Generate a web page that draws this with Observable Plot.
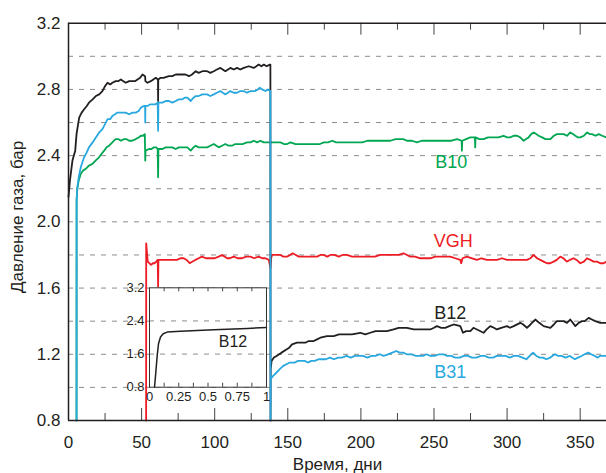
<!DOCTYPE html>
<html>
<head>
<meta charset="utf-8">
<script src="https://cdn.jsdelivr.net/npm/d3@7"></script>
<script src="https://cdn.jsdelivr.net/npm/@observablehq/plot@0.6"></script>
<style>
  html, body { margin: 0; padding: 0; background: white; }
  #wrap { position: relative; width: 606px; height: 473px; }
  #wrap svg { display: block; }
  #inset { position: absolute; left: 100px; top: 262px; }
</style>
</head>
<body>
<div id="wrap"><div id="main"></div><div id="inset"></div></div>
<script>
// ---- data: [day, pressure (bar)] ----
const B12 = [[0,2.15],[1,2.25],[2.7,2.37],[4.6,2.43],[5.5,2.53],[7.3,2.63],[9,2.66],[10.7,2.68],[12.5,2.70],[14,2.72],[16.5,2.74],[18.7,2.76],[21,2.77],[23.2,2.79],[25,2.82],[26.7,2.84],[28.5,2.83],[30,2.84],[32.3,2.85],[34,2.85],[35.8,2.86],[37.5,2.85],[39.2,2.84],[41.5,2.85],[43.8,2.85],[45.5,2.85],[47.2,2.86],[49,2.87],[50.6,2.89],[52.4,2.88],[52.6,2.85],[54,2.84],[56.3,2.85],[58,2.86],[59.7,2.87],[61.2,2.86],[61.3,2.73],[61.4,2.86],[63,2.87],[65,2.87],[68.7,2.88],[71,2.88],[73.3,2.89],[75.5,2.89],[77.9,2.89],[80,2.89],[82.4,2.88],[84.5,2.89],[87,2.91],[89,2.90],[91.6,2.91],[94.8,2.91],[97,2.90],[99.4,2.91],[101.5,2.92],[103.9,2.93],[107.3,2.91],[110.7,2.93],[113,2.92],[115.3,2.93],[117.5,2.92],[119.9,2.93],[123.3,2.94],[126.7,2.93],[128.5,2.94],[130.1,2.95],[132,2.94],[133.6,2.95],[135.5,2.94],[137.7,2.95],[138.1,2.95],[138.2,0.8],[138.3,1.11],[138.9,1.16],[140.5,1.18],[142.3,1.19],[145.7,1.21],[149.3,1.23],[151,1.24],[152.9,1.26],[156.3,1.27],[159.8,1.27],[162,1.27],[164.3,1.28],[167.7,1.28],[170,1.29],[172.3,1.30],[176.8,1.31],[181.4,1.31],[185,1.32],[188.2,1.32],[193.9,1.32],[199.6,1.33],[203,1.32],[206.4,1.33],[210,1.34],[213.3,1.34],[217.8,1.34],[222.4,1.35],[225.8,1.36],[228.5,1.36],[231.5,1.36],[236.1,1.35],[239.5,1.35],[242.9,1.35],[247.5,1.35],[250,1.36],[252,1.37],[255,1.36],[257.7,1.36],[260.5,1.37],[263.4,1.38],[268,1.37],[269.8,1.33],[272,1.34],[274.8,1.34],[277,1.36],[279.4,1.35],[283.9,1.33],[286,1.35],[288.5,1.37],[291,1.36],[293,1.35],[296,1.36],[299.9,1.37],[302,1.36],[304.5,1.37],[309,1.39],[311,1.38],[313.6,1.36],[316,1.38],[319.3,1.41],[322,1.39],[325,1.37],[329.6,1.36],[332,1.38],[334.1,1.40],[338.7,1.40],[341,1.39],[343.2,1.41],[346.7,1.37],[349,1.39],[351.2,1.40],[353,1.40],[355.8,1.42],[358,1.41],[360.3,1.40],[363.7,1.39],[367.2,1.39],[368,1.39]];

const B31 = [[5.5,0.8],[5.55,2.13],[6.1,2.21],[7,2.27],[8.4,2.33],[9.5,2.36],[10.7,2.39],[12.5,2.42],[14,2.45],[16.5,2.48],[18.7,2.51],[21,2.54],[23.2,2.56],[25,2.59],[26.7,2.62],[28.5,2.62],[30,2.64],[31.8,2.65],[33.5,2.66],[35.2,2.66],[37,2.66],[39,2.66],[41.5,2.65],[43.8,2.66],[46,2.66],[48,2.67],[49.5,2.69],[51.5,2.70],[52.4,2.70],[52.5,2.60],[52.6,2.70],[54,2.70],[56,2.71],[57.8,2.71],[59.5,2.71],[61,2.72],[61.3,2.55],[61.5,2.72],[64.3,2.72],[66.5,2.73],[68.7,2.73],[71,2.72],[73.3,2.73],[75.5,2.74],[77.9,2.74],[79.5,2.75],[81.3,2.75],[83.6,2.73],[85.5,2.75],[87,2.76],[89,2.76],[91.6,2.77],[94.8,2.77],[97,2.76],[99.4,2.77],[101.5,2.78],[103.9,2.79],[105.5,2.78],[107.3,2.77],[109,2.78],[110.7,2.79],[113,2.78],[115.3,2.78],[117.5,2.79],[119.9,2.79],[122,2.78],[124.4,2.79],[127.8,2.79],[129.5,2.80],[130.8,2.81],[132.5,2.80],[134.7,2.79],[136.5,2.80],[138.1,2.79],[138.2,0.8],[138.3,1.05],[140,1.07],[142.3,1.09],[144.5,1.11],[146.9,1.13],[149,1.14],[151.4,1.15],[154.8,1.15],[157,1.16],[159.4,1.16],[161.5,1.16],[163.9,1.15],[166,1.16],[168.5,1.16],[171,1.17],[173.1,1.17],[176,1.17],[178.8,1.18],[181.5,1.17],[184.5,1.18],[187,1.18],[190.2,1.19],[193,1.18],[195.9,1.19],[198.5,1.19],[201.5,1.19],[204.5,1.18],[207.2,1.19],[210,1.19],[212.9,1.20],[215.5,1.19],[218.6,1.20],[221.5,1.21],[224.3,1.22],[226.5,1.21],[228.8,1.21],[231.5,1.20],[234.5,1.20],[237.5,1.19],[240.2,1.19],[242.5,1.19],[244.8,1.20],[247.5,1.19],[250.5,1.19],[253.5,1.20],[256.2,1.20],[259,1.19],[261.9,1.19],[264.5,1.18],[267.6,1.18],[270.5,1.19],[273.3,1.19],[276,1.18],[279,1.18],[282,1.19],[284.7,1.19],[287.5,1.18],[290.4,1.18],[293,1.19],[296.1,1.19],[299,1.19],[301.8,1.18],[304.5,1.19],[307.5,1.19],[310.5,1.18],[313.2,1.17],[315.5,1.19],[317.8,1.21],[320,1.19],[322.4,1.18],[324.5,1.18],[326.9,1.17],[329.5,1.18],[332.6,1.20],[335,1.19],[337.2,1.19],[340,1.18],[342.9,1.19],[344.5,1.18],[346.3,1.17],[348.5,1.18],[350.9,1.19],[353,1.20],[355.5,1.21],[357.5,1.20],[360,1.19],[362,1.18],[363.5,1.19],[365.5,1.19],[368,1.19]];

const B10 = [[5.5,0.8],[5.55,2.13],[6,2.20],[7,2.25],[8.4,2.29],[10,2.31],[11.8,2.32],[14,2.34],[16.4,2.35],[18.5,2.37],[20.9,2.39],[22.5,2.41],[24.4,2.43],[26,2.45],[27.8,2.46],[30,2.48],[31,2.49],[32.3,2.50],[34,2.50],[35.8,2.49],[38,2.50],[39.5,2.50],[41.5,2.49],[43.5,2.49],[46,2.50],[48,2.51],[49.5,2.52],[51,2.52],[52.2,2.53],[52.4,2.43],[52.5,2.37],[52.7,2.43],[55.1,2.44],[56.8,2.44],[58.5,2.45],[60,2.45],[61,2.44],[61.3,2.27],[61.5,2.44],[64.3,2.44],[66.5,2.45],[68.7,2.45],[71,2.45],[73.3,2.44],[75.5,2.45],[77.9,2.45],[81.3,2.45],[83.6,2.43],[85.5,2.45],[87,2.46],[89,2.45],[91.6,2.45],[94.8,2.45],[97,2.46],[99.4,2.47],[102.7,2.45],[105,2.46],[107.3,2.47],[109.5,2.46],[111.9,2.46],[114,2.47],[116.4,2.47],[119,2.47],[122.1,2.48],[124.5,2.48],[126.7,2.49],[129,2.48],[131.3,2.49],[133.5,2.48],[135.8,2.48],[139.3,2.48],[142.7,2.48],[145,2.48],[147.3,2.47],[149.5,2.47],[151.8,2.48],[155.3,2.47],[158.7,2.47],[161,2.47],[163.3,2.47],[166,2.47],[169,2.47],[172,2.47],[174.7,2.48],[177.5,2.48],[180.4,2.49],[183,2.48],[186.1,2.48],[189,2.48],[191.8,2.48],[194.5,2.48],[197.5,2.48],[201,2.48],[204.4,2.49],[208,2.49],[211.2,2.49],[215.8,2.49],[220.1,2.49],[223.7,2.50],[227,2.50],[229,2.50],[231.5,2.49],[235,2.49],[238.4,2.48],[241.5,2.49],[245.2,2.49],[248.5,2.49],[252,2.49],[255.5,2.49],[258.9,2.49],[262,2.49],[265.7,2.50],[268.9,2.49],[269.1,2.43],[269.3,2.49],[272,2.50],[274.8,2.51],[278,2.51],[278.2,2.45],[278.4,2.51],[281,2.50],[283.9,2.50],[287,2.51],[290.8,2.51],[294,2.51],[297.6,2.52],[300,2.51],[302.2,2.51],[304.5,2.52],[306.8,2.52],[309,2.51],[311.3,2.49],[313,2.50],[314.7,2.51],[316.5,2.53],[318.2,2.54],[320,2.53],[321.6,2.52],[324,2.51],[326.2,2.50],[329.6,2.50],[332,2.52],[334.1,2.53],[336.5,2.53],[338.7,2.53],[341,2.52],[343.2,2.54],[345,2.53],[346.7,2.52],[348.5,2.51],[350.1,2.51],[352.5,2.52],[354.7,2.54],[356.5,2.53],[358.1,2.53],[360.5,2.52],[362.7,2.53],[365,2.52],[368,2.51]];

const VGH = [[53.1,0.8],[53.15,1.87],[54.2,1.76],[55.3,1.75],[56.5,1.74],[57.7,1.75],[58.8,1.75],[60,1.76],[61,1.77],[61.3,1.61],[61.5,1.77],[63,1.77],[65.1,1.77],[67,1.77],[69.6,1.77],[72,1.77],[74.2,1.77],[76.5,1.78],[78.8,1.78],[80.8,1.77],[82.9,1.75],[84.8,1.76],[86.8,1.77],[89,1.78],[91.3,1.79],[94,1.78],[97,1.78],[100,1.78],[102.7,1.79],[105,1.80],[106.8,1.79],[108.5,1.78],[110.5,1.78],[113,1.79],[115.8,1.78],[118.7,1.78],[121.5,1.79],[124.4,1.79],[127,1.78],[130.1,1.79],[132.5,1.78],[134.7,1.78],[137,1.77],[138.1,1.72],[138.6,1.78],[139.2,1.80],[142,1.80],[144.9,1.80],[147,1.79],[149.5,1.79],[151.5,1.80],[153.4,1.81],[155.5,1.80],[157.5,1.79],[160.5,1.79],[163.2,1.79],[166.5,1.79],[170,1.79],[172.3,1.80],[174.6,1.80],[177,1.79],[179.1,1.80],[182,1.80],[184.8,1.79],[187.5,1.80],[190.5,1.80],[194,1.79],[197.4,1.79],[199.6,1.79],[202,1.79],[206.4,1.79],[209.5,1.79],[213.3,1.80],[216.5,1.80],[220.1,1.80],[223,1.80],[225.8,1.80],[229.2,1.81],[231.5,1.80],[233.8,1.79],[237,1.79],[240.6,1.78],[244,1.78],[247.5,1.78],[251,1.79],[254.3,1.79],[257.5,1.79],[261.2,1.79],[264.5,1.78],[268,1.77],[268.6,1.75],[269.5,1.78],[272.5,1.79],[276,1.78],[279.4,1.77],[282.5,1.78],[286.2,1.77],[289.5,1.77],[293.1,1.77],[296.5,1.78],[299.9,1.77],[303,1.77],[306.7,1.77],[310,1.77],[313.6,1.77],[316,1.78],[318.1,1.80],[320.5,1.78],[322.7,1.77],[325,1.76],[327.3,1.75],[329.5,1.75],[331.8,1.76],[334,1.77],[336.4,1.79],[338.5,1.78],[340.9,1.76],[343,1.77],[345.5,1.78],[347.5,1.77],[350.1,1.75],[352.5,1.76],[354.6,1.78],[357,1.77],[359.2,1.76],[361.5,1.76],[363.7,1.75],[366,1.75],[368,1.76]];

// inset (first day, normalised time)
const insetT = [0.043,0.054,0.066,0.077,0.094,0.117,0.151,0.265,0.55,0.835,1.0];
const insetP = [0.80,1.16,1.57,1.85,2.01,2.09,2.13,2.15,2.19,2.22,2.24];

// ticks
const xTicks = [0,50,100,150,200,250,300,350];
const xMinor = [25,75,125,175,225,275,325];
const yTicks = [0.8,1.2,1.6,2.0,2.4,2.8,3.2];
const yGrid = [1.0,1.2,1.4,1.6,1.8,2.0,2.2,2.4,2.6,2.8,3.0];
const insetXTicks = [0,0.25,0.5,0.75,1];
const insetXMarks = [0.125,0.25,0.375,0.5,0.625,0.75,0.875];
const insetYTicks = [0.8,1.6,2.4,3.2];
const insetGrid = [1.6,2.4];

// series labels
const labelText = ["B10","VGH","B12","B31"];
const labelDay = [261.8,263.2,261.1,261.1];
const labelVal = [2.36,1.88,1.45,1.09];
const labelColor = ["#00a651","#ed1c24","#231f20","#29a8df"];

const COL = {B10:"#00a651", VGH:"#ed1c24", B12:"#231f20", B31:"#29a8df"};
const FONT = "'Liberation Sans', Arial, Helvetica, sans-serif";
const toRows = a => a.map(([d, v]) => ({d, v}));
const labels = labelText.map((t, i) => ({t, d: labelDay[i], v: labelVal[i], c: labelColor[i]}));

const Y0 = 0.8, Y1 = 3.2;
const innerH = 473 - 22.7 - 53;
const pxPerUnit = innerH / (Y1 - Y0);          // main y scale: px per bar
const tk = px => px / pxPerUnit;               // tick length in bar units
const gridStyle = {stroke: "#8c8c8c", strokeDasharray: "5,6", strokeWidth: 1};
const tickStyle = {stroke: "#444", strokeWidth: 1};

const main = Plot.plot({
  width: 606, height: 473,
  marginLeft: 68, marginRight: 0, marginTop: 22.7, marginBottom: 53,
  style: {fontFamily: FONT, fontSize: "17px", color: "#231f20", background: "white", overflow: "visible"},
  x: {domain: [0, 368], ticks: xTicks, tickSize: 0, tickPadding: 15, label: null},
  y: {domain: [Y0, Y1], ticks: yTicks, tickSize: 0, tickPadding: 8, label: null, tickFormat: d => d.toFixed(1)},
  marks: [
    Plot.ruleY(yGrid, gridStyle),
    Plot.line(toRows(B10), {x: "d", y: "v", stroke: COL.B10, strokeWidth: 1.8}),
    Plot.line(toRows(VGH), {x: "d", y: "v", stroke: COL.VGH, strokeWidth: 1.8}),
    Plot.line(toRows(B12), {x: "d", y: "v", stroke: COL.B12, strokeWidth: 1.8}),
    Plot.line(toRows(B31), {x: "d", y: "v", stroke: COL.B31, strokeWidth: 1.8}),
    // inward ticks, bottom and top
    Plot.ruleX(xTicks.slice(1), {y1: Y0, y2: Y0 + tk(12), ...tickStyle}),
    Plot.ruleX(xMinor, {y1: Y0, y2: Y0 + tk(7), ...tickStyle}),
    Plot.ruleX(xTicks.slice(1), {y1: Y1 - tk(12), y2: Y1, ...tickStyle}),
    Plot.ruleX(xMinor, {y1: Y1 - tk(7), y2: Y1, ...tickStyle}),
    // frame
    Plot.ruleY([Y0, Y1], {stroke: "#231f20", strokeWidth: 1.5}),
    Plot.ruleX([0], {stroke: "#231f20", strokeWidth: 1.5}),
    // series labels
    ...labels.map(l => Plot.text([l], {x: "d", y: "v", text: "t", fill: l.c, fontSize: 18})),
    // axis titles
    Plot.text(["Время, дни"], {frameAnchor: "bottom", lineAnchor: "middle", textAnchor: "middle", dy: 44, fontSize: 17, fill: "#231f20"}),
    Plot.text(["Давление газа, бар"], {frameAnchor: "left", lineAnchor: "middle", textAnchor: "middle", dx: -51, dy: -5, rotate: -90, fontSize: 17, fill: "#231f20"})
  ]
});
document.getElementById("main").appendChild(main);

const iW = 180, iH = 150, iL = 49, iT = 25.3, iInnerW = 117, iInnerH = 99.4;
const iTk = px => px * (Y1 - Y0) / iInnerH;
const inset = Plot.plot({
  width: iW, height: iH,
  marginLeft: iL, marginRight: iW - iL - iInnerW, marginTop: iT, marginBottom: iH - iT - iInnerH,
  style: {fontFamily: FONT, fontSize: "13px", color: "#231f20", background: "transparent", overflow: "visible"},
  x: {domain: [0, 1], ticks: insetXTicks, tickSize: 0, tickPadding: 5, label: null, tickFormat: d => String(d)},
  y: {domain: [Y0, Y1], ticks: insetYTicks, tickSize: 0, tickPadding: 5, label: null, tickFormat: d => d.toFixed(1)},
  marks: [
    Plot.frame({fill: "white", stroke: null}),
    Plot.ruleY(insetGrid, gridStyle),
    Plot.ruleX(insetXMarks, {y1: Y0, y2: Y0 + iTk(4), ...tickStyle}),
    Plot.ruleX(insetXMarks, {y1: Y1 - iTk(4), y2: Y1, ...tickStyle}),
    Plot.line(insetT.map((t, i) => ({t, p: insetP[i]})), {x: "t", y: "p", stroke: COL.B12, strokeWidth: 1.5}),
    Plot.frame({stroke: "#333", strokeWidth: 1}),
    Plot.text(["B12"], {x: 0.714, y: 1.90, fontSize: 16, fill: "#231f20"})
  ]
});
document.getElementById("inset").appendChild(inset);
</script>
</body>
</html>
